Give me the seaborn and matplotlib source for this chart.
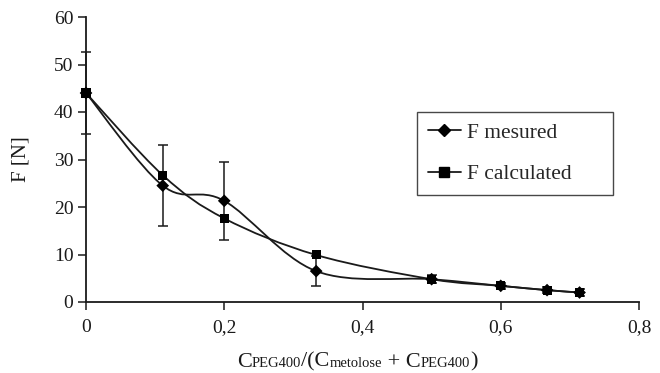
import numpy as np
import pandas as pd
import matplotlib
matplotlib.use("Agg")
import matplotlib.pyplot as plt
from matplotlib.path import Path
from matplotlib.patches import PathPatch
from matplotlib.lines import Line2D
from matplotlib.offsetbox import TextArea, HPacker, AnnotationBbox
import seaborn as sns

# ---- data ----
ratio = [0.0, 0.111, 0.2, 0.333, 0.5, 0.6, 0.667, 0.714]
f_measured = [44.0, 24.5, 21.3, 6.5, 4.8, 3.4, 2.5, 2.0]
f_measured_err = [8.7, 8.5, 8.2, 3.1, 0.9, 0.6, 0.7, 0.8]
f_calculated = [44.0, 26.7, 17.6, 9.9, 4.8, 3.4, 2.5, 2.0]
series_names = ["F mesured", "F calculated"]
x_ticks = [0.0, 0.2, 0.4, 0.6, 0.8]
x_tick_labels = ["0", "0,2", "0,4", "0,6", "0,8"]
y_ticks = [0, 10, 20, 30, 40, 50, 60]
# x-axis title pieces: (text, is_subscript)
x_title_parts = [("C", False), ("PEG400", True), ("/(C", False), ("metolose", True),
                 (" + C", False), ("PEG400", True), (")", False)]

sns.set_theme(style="ticks")
plt.rcParams["font.family"] = ["Liberation Serif", "DejaVu Serif"]

INK = "#1a1a1a"
fig = plt.figure(figsize=(6.6, 3.73), dpi=100)
ax = fig.add_axes([86 / 660, 1 - 302 / 373, (639 - 86) / 660, (302 - 17) / 373])


def smooth_path(xs, ys):
    """Excel-style smoothed line as cubic Bezier segments through the points."""
    pts = np.column_stack([xs, ys])
    n = len(pts)
    verts = [pts[0]]
    codes = [Path.MOVETO]
    for i in range(n - 1):
        p0 = pts[i - 1] if i > 0 else pts[i]
        p1 = pts[i]
        p2 = pts[i + 1]
        p3 = pts[i + 2] if i + 2 < n else pts[i + 1]
        c1 = p1 + (p2 - p0) / 6.0
        c2 = p2 - (p3 - p1) / 6.0
        verts += [c1, c2, p2]
        codes += [Path.CURVE4] * 3
    return Path(verts, codes)


for ys in (f_measured, f_calculated):
    ax.add_patch(PathPatch(smooth_path(ratio, ys), facecolor="none",
                           edgecolor=INK, lw=1.3, zorder=2))

ax.errorbar(ratio, f_measured, yerr=f_measured_err, fmt="none",
            ecolor=INK, elinewidth=1.1, capsize=3.8, capthick=1.1, zorder=3,
            clip_on=False)

df = pd.DataFrame({
    "ratio": ratio * 2,
    "F": f_measured + f_calculated,
    "series": [series_names[0]] * len(ratio) + [series_names[1]] * len(ratio),
})
sns.scatterplot(data=df, x="ratio", y="F", style="series",
                markers={series_names[0]: "D", series_names[1]: "s"},
                color="black", s=42, edgecolor="black", linewidth=0,
                legend=False, ax=ax, zorder=4, clip_on=False)

ax.set_xlim(0, 0.8)
ax.set_ylim(0, 60)
ax.set_xticks(x_ticks)
ax.set_xticklabels(x_tick_labels)
ax.set_yticks(y_ticks)
ax.tick_params(axis="both", labelsize=14, length=6, width=1.1, color=INK,
               labelcolor=INK, direction="out", pad=3)
ax.tick_params(axis="x", pad=6)
sns.despine(ax=ax)
for s in ("left", "bottom"):
    ax.spines[s].set_linewidth(1.3)
    ax.spines[s].set_color(INK)

ax.set_ylabel("F [N]", fontsize=15, color=INK, labelpad=17)
ax.set_xlabel("")

# x-axis title with small subscripts, packed on a common baseline
areas = [TextArea(t, textprops=dict(fontsize=10.5 if sub else 16, color=INK,
                                    family=["Liberation Serif", "DejaVu Serif"]))
         for t, sub in x_title_parts]
pack = HPacker(children=areas, align="baseline", pad=0, sep=0)
fig.add_artist(AnnotationBbox(pack, (357, 373 - 362), xycoords="figure pixels",
                              box_alignment=(0.5, 0.5), frameon=False, pad=0))

handles = [
    Line2D([], [], color=INK, lw=1.3, marker="D", markersize=6, markerfacecolor="black", markeredgecolor="black"),
    Line2D([], [], color=INK, lw=1.3, marker="s", markersize=6.5, markerfacecolor="black", markeredgecolor="black"),
]
x0 = (417 - 86) / 553
w = (613 - 417) / 553
y_top = 1 - (112 - 17) / 285
h = (189 - 112) / 285
leg = ax.legend(handles, series_names, loc="upper left",
                bbox_to_anchor=(x0, y_top - h, w, h), mode="expand",
                fontsize=15.5, frameon=True, fancybox=False, edgecolor=INK,
                handlelength=1.55, handletextpad=0.25, borderpad=0.5,
                labelspacing=1.0, borderaxespad=0)
leg.get_frame().set_linewidth(1.0)

fig.savefig("out.png", dpi=100)
